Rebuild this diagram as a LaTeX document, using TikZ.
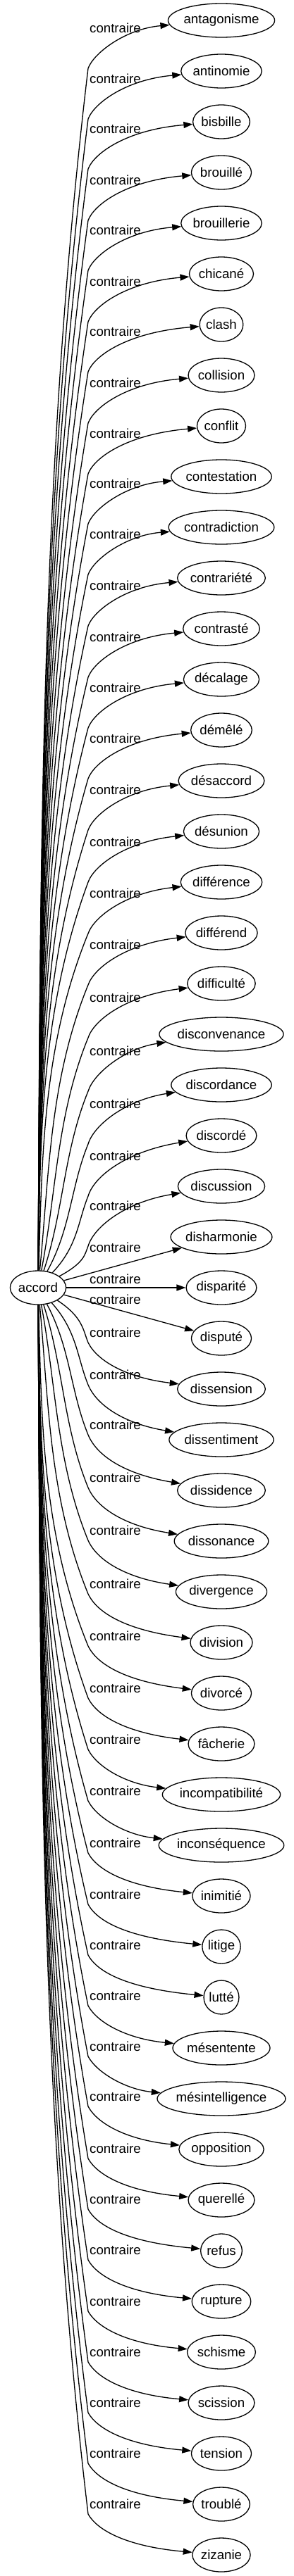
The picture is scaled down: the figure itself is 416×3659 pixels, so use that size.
\documentclass[tikz,border=0pt]{standalone}
\usepackage{fontspec}
\setmainfont{Liberation Sans}
\usetikzlibrary{arrows.meta,shapes.geometric}
\newlength\wordwd
\newcommand\wordfont{\fontsize{18.67pt}{22pt}\selectfont}
\tikzset{
  word/.style={draw, ellipse, line width=1.3pt, inner sep=0pt,
               minimum height=48pt, font=\wordfont},
  rel/.style={font=\wordfont, anchor=west, inner sep=0pt},
  arr/.style={-{Triangle[length=13pt,width=9pt]}, line width=1.3pt},
}

\begin{document}
\begin{tikzpicture}[x=1pt, y=-1pt]
  \useasboundingbox (0,0) rectangle (416,3659);
  \settowidth{\wordwd}{\wordfont accord}
  \node[word, minimum width=1.28*\wordwd+27.3pt] (accord) at (54,1829) {accord};
  % one ellipse, one label and one edge per word; \ly = height of the label
  \foreach \nm/\ly [count=\i] in {antagonisme/40, antinomie/112, bisbille/183,
      brouillé/256, brouillerie/327, chicané/400, clash/471, collision/544,
      conflit/616, contestation/687, contradiction/759, contrariété/832,
      contrasté/905, décalage/977, démêlé/1049, désaccord/1122, désunion/1196,
      différence/1269, différend/1342, difficulté/1417, disconvenance/1493,
      discordance/1568, discordé/1642, discussion/1713, disharmonie/1772,
      disparité/1817, disputé/1846, dissension/1893, dissentiment/1953,
      dissidence/2024, dissonance/2099, divergence/2174, division/2250,
      divorcé/2324, fâcherie/2398, incompatibilité/2471, inconséquence/2544,
      inimitié/2618, litige/2691, lutté/2763, mésentente/2835,
      mésintelligence/2907, opposition/2978, querellé/3052, refus/3124,
      rupture/3196, schisme/3269, scission/3341, tension/3413, troublé/3485,
      zizanie/3557} {
    \pgfmathsetmacro\yt{29+72*(\i-1)}
    \settowidth{\wordwd}{\wordfont\nm}
    \node[word, minimum width=1.28*\wordwd+27.3pt] (w\i) at (314,\yt) {\nm};
    \node[rel] (l\i) at (127,\ly) {contraire};
    \ifnum\i<25
      % above accord: climb, bend under the label, then into the word
      \pgfmathsetmacro\yb{\ly+57}
      \pgfmathsetmacro\vv{1805-\yb}
      \pgfmathsetmacro\kk{57+68*max(0,1-\vv/500)}
      \pgfmathsetmacro\ga{max(8,12+0.6*(\yb-\yt-68))}
      \draw[arr] (accord) .. controls (\kk,{1805-\vv/3}) and (\kk,{\yb+\vv/3}) .. (125,\yb)
        .. controls (133,{\yb-0.32*(\yb-\yt)}) and (178,{\yt+\ga}) .. (w\i);
    \else\ifnum\i>27
      % below accord
      \pgfmathsetmacro\yb{\ly+14}
      \pgfmathsetmacro\vv{\yb-1853}
      \pgfmathsetmacro\kk{57+68*max(0,1-\vv/500)}
      \pgfmathsetmacro\ga{max(8,13+0.5*(\yt-\yb-60))}
      \draw[arr] (accord) .. controls (\kk,{1853+\vv/3}) and (\kk,{\yb-\vv/3}) .. (125,\yb)
        .. controls (138,{\yb+0.4*(\yt-\yb)}) and (180,{\yt-\ga}) .. (w\i);
    \else
      \draw[arr] (accord) -- (w\i);
    \fi\fi
  }
\end{tikzpicture}
\end{document}
